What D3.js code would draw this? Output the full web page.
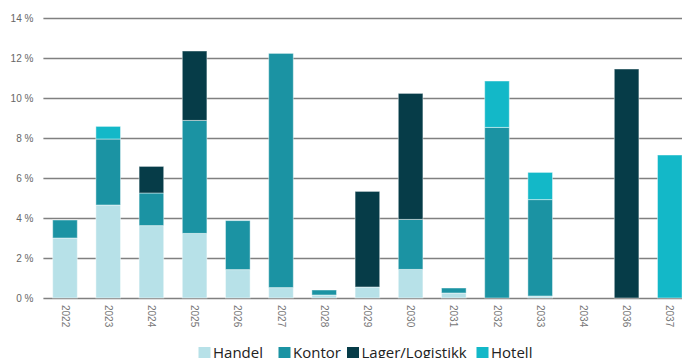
<!DOCTYPE html>
<html>
<head>
<meta charset="utf-8">
<script src="https://cdn.jsdelivr.net/npm/d3@7"></script>
<style>
  body { margin: 0; background: #fff; }
  svg { font-family: "Open Sans", sans-serif; display: block; }
</style>
</head>
<body>
<svg id="graph"></svg>
<script>
// chart data
var years = ["2022","2023","2024","2025","2026","2027","2028","2029","2030","2031","2032","2033","2034","2036","2037"];
var handel = [3.0, 4.65, 3.62, 3.23, 1.42, 0.52, 0.15, 0.55, 1.43, 0.25, 0, 0.1, 0, 0, 0];
var kontor = [0.9, 3.3, 1.63, 5.65, 2.45, 11.71, 0.25, 0, 2.5, 0.25, 8.53, 4.82, 0, 0, 0];
var lager = [0, 0, 1.33, 3.47, 0, 0, 0, 4.78, 6.3, 0, 0, 0, 0, 11.45, 0];
var hotell = [0, 0.63, 0, 0, 0, 0, 0, 0, 0, 0, 2.32, 1.36, 0, 0, 7.15];
var seriesNames = ["Handel", "Kontor", "Lager/Logistikk", "Hotell"];
var yTicks = [0, 2, 4, 6, 8, 10, 12, 14];

var colors = ["#b7e1e8", "#1b93a3", "#063c48", "#13b8c8"];

var screen = {width: 682, height: 358};
var margins = {top: 18, left: 43.4};
var graph = {height: 280};

var svg = d3.select("#graph")
    .attr("width", screen.width)
    .attr("height", screen.height);

var rows = years.map(function(y, i) {
    return {year: y, Handel: handel[i], Kontor: kontor[i], "Lager/Logistikk": lager[i], Hotell: hotell[i]};
});

var xScale = d3.scaleBand()
    .domain(years)
    .range([margins.left, margins.left + 43.2 * 15])
    .paddingInner(0.43)
    .paddingOuter(0.215);

var yScale = d3.scaleLinear()
    .domain([0, 14])
    .range([margins.top + graph.height, margins.top]);

// gridlines + y labels
var yAxis = d3.axisLeft(yScale)
    .tickValues(yTicks)
    .tickSize(-(screen.width - margins.left))
    .tickPadding(10)
    .tickFormat(function(d) { return d + " %"; });

var yg = svg.append("g")
    .attr("transform", "translate(" + margins.left + ",0)")
    .call(yAxis);
yg.select(".domain").remove();
yg.selectAll(".tick line")
    .attr("stroke", "#808080")
    .attr("stroke-width", 1.5);
yg.selectAll(".tick text")
    .attr("fill", "#666")
    .attr("font-size", 10);

// stacked bars
var stack = d3.stack().keys(seriesNames);
var layers = stack(rows);

svg.append("g")
    .selectAll("g")
    .data(layers)
    .enter()
    .append("g")
    .attr("fill", function(d, i) { return colors[i]; })
    .selectAll("rect")
    .data(function(d) { return d; })
    .enter()
    .filter(function(d) { return d[1] - d[0] > 0; })
    .append("rect")
    .attr("x", function(d) { return xScale(d.data.year); })
    .attr("width", xScale.bandwidth())
    .attr("y", function(d) { return yScale(d[1]); })
    .attr("height", function(d) { return yScale(d[0]) - yScale(d[1]); })
    .attr("stroke", "rgba(255,255,255,0.45)")
    .attr("stroke-width", 1);

// x labels, rotated
var xAxis = d3.axisBottom(xScale).tickSize(0).tickPadding(0);
var xg = svg.append("g")
    .attr("transform", "translate(0," + (margins.top + graph.height) + ")")
    .call(xAxis);
xg.select(".domain").remove();
xg.selectAll(".tick text")
    .attr("fill", "#777")
    .attr("font-size", 10)
    .attr("text-anchor", "start")
    .attr("dy", "0.35em")
    .attr("transform", "translate(0,7) rotate(90)")
    .attr("x", 0)
    .attr("y", 0);

// legend
var legendX = [198.5, 278.5, 347, 476.5];
var legend = svg.append("g");
seriesNames.forEach(function(name, i) {
    legend.append("rect")
        .attr("x", legendX[i])
        .attr("y", 347)
        .attr("width", 12)
        .attr("height", 12)
        .attr("fill", colors[i]);
    legend.append("text")
        .attr("x", legendX[i] + 14.5)
        .attr("y", 358)
        .attr("font-size", 15)
        .attr("fill", "#222")
        .text(name);
});
</script>
</body>
</html>
